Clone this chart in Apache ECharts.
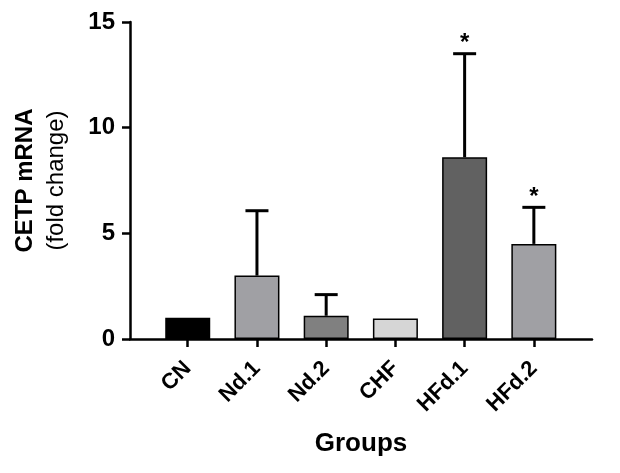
<!DOCTYPE html>
<html>
<head>
<meta charset="utf-8">
<script src="https://cdn.jsdelivr.net/npm/echarts@6/dist/echarts.min.js"></script>
<style>html,body{margin:0;padding:0;background:#fff}#chart{width:620px;height:473px}</style>
</head>
<body>
<div id="chart"></div>
<script>
var categories = ['CN', 'Nd.1', 'Nd.2', 'CHF', 'HFd.1', 'HFd.2'];
var means = [1.0, 3.0, 1.1, 0.97, 8.6, 4.5];
var errors = [0, 3.07, 1.0, 0, 4.9, 1.73];
var marks = ['', '', '', '', '*', '*'];
var barColors = ['#000000', '#a0a0a4', '#808080', '#d6d6d6', '#616161', '#a0a0a4'];
var yTicks = [0, 5, 10, 15];

var FONT = '"Liberation Sans", Arial, sans-serif';
var chart = echarts.init(document.getElementById('chart'), null, {renderer: 'canvas'});

var barData = categories.map(function (c, i) {
  return {value: [i, means[i]], itemStyle: {color: barColors[i]}};
});
var errData = categories.map(function (c, i) {
  return [i, means[i], errors[i], marks[i]];
});

chart.setOption({
  animation: false,
  backgroundColor: '#ffffff',
  grid: {left: 130, right: 28, top: 22, bottom: 134, containLabel: false},
  xAxis: {
    type: 'value',
    min: -0.834,
    max: 5.84,
    name: 'Groups',
    nameLocation: 'middle',
    nameGap: 92,
    nameTextStyle: {fontFamily: FONT, fontWeight: 'bold', fontSize: 26, color: '#000'},
    splitLine: {show: false},
    axisLine: {show: true, onZero: false, lineStyle: {color: '#000', width: 2.5}},
    axisTick: {show: true, length: 8, lineStyle: {color: '#000', width: 2.5}, customValues: [0, 1, 2, 3, 4, 5]},
    axisLabel: {
      customValues: [0, 1, 2, 3, 4, 5],
      rotate: 45,
      margin: 26,
      fontFamily: FONT, fontWeight: 'bold', fontSize: 22, color: '#000',
      formatter: function (v) { return categories[Math.round(v)] || ''; }
    }
  },
  yAxis: {
    type: 'value',
    min: 0,
    max: 15,
    interval: 5,
    name: '{a|CETP mRNA}\n{b|(fold change)}',
    nameLocation: 'middle',
    nameRotate: 90,
    nameGap: 58,
    nameTextStyle: {
      color: '#000',
      rich: {
        a: {fontFamily: FONT, fontWeight: 'bold', fontSize: 24, lineHeight: 31, color: '#000'},
        b: {fontFamily: FONT, fontWeight: 'normal', fontSize: 24, lineHeight: 31, color: '#000'}
      }
    },
    splitLine: {show: false},
    axisLine: {show: true, onZero: false, lineStyle: {color: '#000', width: 2.5}},
    axisTick: {show: true, length: 8, lineStyle: {color: '#000', width: 2.5}},
    axisLabel: {
      margin: 15,
      fontFamily: FONT, fontWeight: 'bold', fontSize: 24, color: '#000',
      formatter: function (v) { return yTicks.indexOf(v) >= 0 ? String(v) : ''; }
    }
  },
  series: [
    {
      type: 'custom',
      z: 1,
      renderItem: function (params, api) {
        var x = api.value(0), m = api.value(1), e = api.value(2), mk = errData[params.dataIndex][3];
        var children = [];
        var base = api.coord([x, m]);
        var top = api.coord([x, m + e]);
        if (e > 0) {
          children.push({type: 'line', shape: {x1: base[0], y1: base[1], x2: top[0], y2: top[1]}, style: {stroke: '#000', lineWidth: 3}});
          children.push({type: 'line', shape: {x1: top[0] - 11.5, y1: top[1], x2: top[0] + 11.5, y2: top[1]}, style: {stroke: '#000', lineWidth: 3}});
        }
        if (mk) {
          children.push({type: 'text', style: {text: mk, x: top[0], y: top[1] - 10, align: 'center', verticalAlign: 'middle', font: 'bold 24px ' + FONT, fill: '#000'}});
        }
        return {type: 'group', children: children};
      },
      data: errData
    },
    {
      type: 'bar',
      z: 2,
      barWidth: 45,
      itemStyle: {borderColor: '#000', borderWidth: 1.5},
      data: barData
    }
  ]
});
</script>
</body>
</html>
